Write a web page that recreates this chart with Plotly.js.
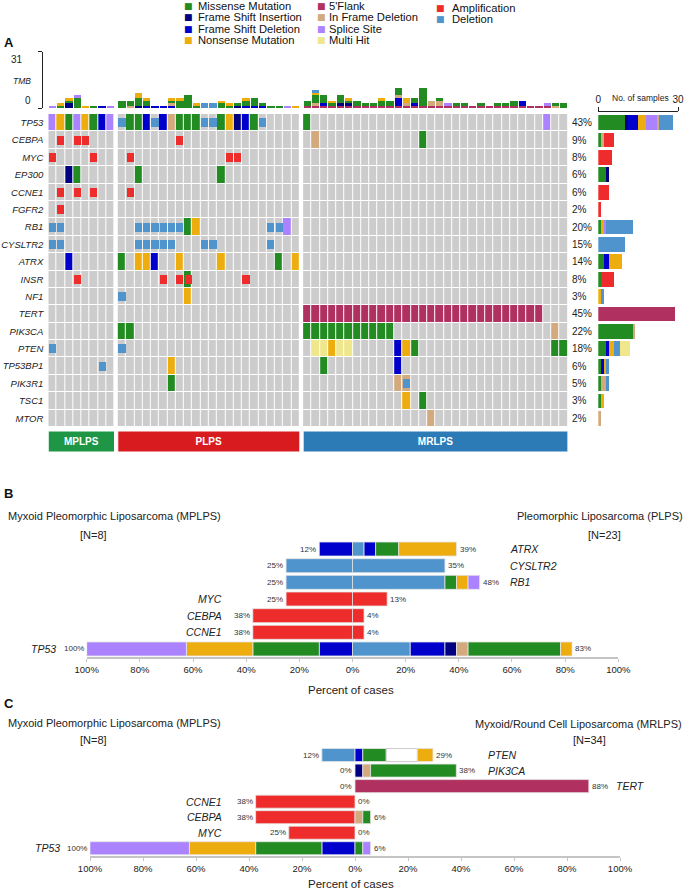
<!DOCTYPE html>
<html><head><meta charset="utf-8">
<script src="https://cdn.plot.ly/plotly-3.0.1.min.js"></script>
<style>html,body{margin:0;padding:0;background:#fff}#chart{width:685px;height:891px}</style>
</head><body><div id="chart"></div>
<script>
// ================= DATA =================
// Panel A oncoplot
const genes = ['TP53','CEBPA','MYC','EP300','CCNE1','FGFR2','RB1','CYSLTR2','ATRX','INSR','NF1','TERT','PIK3CA','PTEN','TP53BP1','PIK3R1','TSC1','MTOR'];
const groups = ['MPLPS','PLPS','MRLPS'];
const groupSizes = [8, 22, 32];
const pctAltered = [43,9,8,6,6,2,20,15,14,8,3,45,22,18,6,5,3,2];
// codes: M missense, I frame-shift ins, D frame-shift del, N nonsense, F 5'flank,
//        T in-frame del, S splice site, H multi hit, A amplification, L deletion (CNV)
// [gene, sample column(s) within group, code]
const mutMPLPS = [
  ['TP53','1','S'],['TP53','2','N'],['TP53','3','M'],['TP53','4','S'],['TP53','5','N'],['TP53','6','M'],['TP53','7','D'],['TP53','8','S'],
  ['EP300','3','I'],['EP300','4','M'],
  ['ATRX','3','D']
];
const cnvMPLPS = [
  ['CEBPA','2','A'],['CEBPA','4-5','A'],
  ['MYC','1','A'],['MYC','6','A'],
  ['CCNE1','2','A'],['CCNE1','4','A'],['CCNE1','6','A'],
  ['FGFR2','2','A'],
  ['RB1','1-2','L'],['CYSLTR2','1-2','L'],
  ['INSR','4','A'],
  ['PTEN','1','L'],['TP53BP1','7','L']
];
const mutPLPS = [
  ['TP53','2-3','M'],['TP53','4','D'],['TP53','6','D'],['TP53','7','T'],['TP53','8-10','M'],['TP53','13','M'],['TP53','14','N'],['TP53','15','I'],['TP53','16','D'],['TP53','17','M'],
  ['EP300','3','M'],['EP300','13','M'],
  ['RB1','9','M'],['RB1','10','N'],['RB1','21','S'],
  ['ATRX','1','M'],['ATRX','3-4','N'],['ATRX','5','D'],['ATRX','8','N'],['ATRX','13','N'],['ATRX','20','M'],['ATRX','22','N'],
  ['INSR','9','M'],['NF1','9','N'],
  ['PIK3CA','1-2','M'],
  ['TP53BP1','7','N'],['PIK3R1','7','M']
];
const cnvPLPS = [
  ['TP53','1','L'],['TP53','5','L'],['TP53','11-12','L'],['TP53','18','L'],
  ['CEBPA','8','A'],
  ['MYC','2','A'],['MYC','14-15','A'],
  ['CCNE1','2','A'],
  ['RB1','3-8','L'],['RB1','19-20','L'],
  ['CYSLTR2','3-7','L'],['CYSLTR2','11-12','L'],['CYSLTR2','19','L'],
  ['INSR','6','A'],['INSR','8-9','A'],['INSR','16','A'],
  ['NF1','1','L'],['PTEN','1','L']
];
const mutMRLPS = [
  ['TP53','1','M'],['TP53','30','S'],
  ['CEBPA','2','T'],['CEBPA','15','M'],
  ['TERT','1-29','F'],
  ['PIK3CA','1-11','M'],['PIK3CA','31','T'],
  ['PTEN','2-3','H'],['PTEN','4','N'],['PTEN','5-6','H'],['PTEN','12','D'],['PTEN','13','N'],['PTEN','14','M'],['PTEN','31-32','M'],
  ['TP53BP1','3','M'],['TP53BP1','12','D'],
  ['PIK3R1','12-13','T'],
  ['TSC1','13','N'],['TSC1','15','M'],
  ['MTOR','16','T']
];
const cnvMRLPS = [['PIK3R1','13','L']];
// TMB: variants per sample (one letter per variant, same codes)
const tmbMPLPS = ['S','MN','IIMN','MMMMS','N','M','D','S'];
const tmbPLPS = ['MMM','TMM','IMMMNN','DMMN','D','D','DTMN','MMMN','MMMMM','MN','LL','LL','MMN','MN','IM','DMMN','DMMM','DM','M','M','S','N'];
const tmbMRLPS = ['FMM','FTMMMNL','FDMMM','FMN','FIMMM','FIMN','FMM','FM','FM','FMMN','FMM','FDDDTMMM','FTNN','FDMM','FMMMMMMM','FTT','FTTM','FS','FM','FM','F','FM','F','FM','FM','FMM','FDD','F','F','FS','TM','MM'];
const tmbPerVariant = 1.41;

// Panel B: MPLPS (N=8) vs PLPS (N=23), counts per variant type
const genesB = ['ATRX','CYSLTR2','RB1','MYC','CEBPA','CCNE1','TP53'];
const nB = [8, 23];
const countsB_MPLPS = ['D1','L2','L2','A2','A3','A3','D1 M2 N2 S3'];
const countsB_PLPS = ['L1 D1 M2 N5','L8','L8 M1 N1 S1','A3','A1','A1','L5 D3 I1 T1 M8 N1'];
const pctB_MPLPS = [12,25,25,25,38,38,100];
const pctB_PLPS = [39,35,48,13,4,4,83];

// Panel C: MPLPS (N=8) vs MRLPS (N=34)
const genesC = ['PTEN','PIK3CA','TERT','CCNE1','CEBPA','MYC','TP53'];
const nC = [8, 34];
const countsC_MPLPS = ['L1','','','A3','A3','A2','D1 M2 N2 S3'];
const countsC_MRLPS = ['D1 M3 H4 N2','I1 T1 M11','F30','','T1 M1','','M1 S1'];
const pctC_MPLPS = [12,0,0,38,38,25,100];
const pctC_MRLPS = [29,38,88,0,6,0,6];

// ================= STYLE =================
const W = 685, H = 891;
const FONT = 'Liberation Sans, Arial, sans-serif';
const COLORS = {M:'#228b22', I:'#000080', D:'#0000cd', N:'#eead0e', F:'#b03060', T:'#d2aa7d', S:'#ab82ff', H:'#f0e68c', A:'#ee2c2c', L:'#4f94cd'};
const COLORS_BC = Object.assign({}, COLORS, {H:'#ffffff'});
const LABELS = {M:'Missense Mutation', I:'Frame Shift Insertion', D:'Frame Shift Deletion', N:'Nonsense Mutation', F:"5'Flank", T:'In Frame Deletion', S:'Splice Site', H:'Multi Hit', A:'Amplification', L:'Deletion'};
const GROUP_COLORS = ['#1e9646','#d81b1f','#2c7bb6'];
const GRAY = '#cccccc';
const MUT_ORDER = ['.','M','I','D','N','F','T','S','H'];
const fx = p => p / W;
const fy = p => 1 - p / H;

// ================= BUILD =================
const groupGap = 0.4;
const starts = [];
{ let acc = 0; groupSizes.forEach((n, g) => { starts.push(acc + g * groupGap); acc += n; }); }
const xMax = starts[2] + groupSizes[2];
const centers = groupSizes.map((n, g) => Array.from({length: n}, (_, j) => starts[g] + j + 0.5));

function buildMatrix(list, n) {
  const m = genes.map(() => Array(n).fill('.'));
  list.forEach(([g, cols, code]) => {
    const gi = genes.indexOf(g);
    const [a, b] = cols.split('-').map(Number);
    for (let c = a; c <= (b || a); c++) m[gi][c - 1] = code;
  });
  return m;
}
const mutM = [buildMatrix(mutMPLPS, 8), buildMatrix(mutPLPS, 22), buildMatrix(mutMRLPS, 32)];
const cnvM = [buildMatrix(cnvMPLPS, 8), buildMatrix(cnvPLPS, 22), buildMatrix(cnvMRLPS, 32)];
const tmbAll = [tmbMPLPS, tmbPLPS, tmbMRLPS];

const traces = [];
const nCodes = MUT_ORDER.length;
const cscale = [];
MUT_ORDER.forEach((c, k) => {
  const col = c === '.' ? GRAY : COLORS[c];
  cscale.push([k / nCodes, col]); cscale.push([(k + 1) / nCodes, col]);
});
// heatmaps (one per group)
groupSizes.forEach((n, g) => {
  traces.push({
    type: 'heatmap', x: centers[g], y: genes.map((_, i) => i),
    z: mutM[g].map(row => row.map(c => MUT_ORDER.indexOf(c))),
    colorscale: cscale, zmin: -0.5, zmax: nCodes - 0.5, showscale: false,
    xgap: 1, ygap: 1, hoverinfo: 'skip', xaxis: 'x', yaxis: 'y'
  });
});
// CNV boxes (half height)
['A','L'].forEach(t => {
  const xs = [], bases = [];
  groupSizes.forEach((n, g) => {
    cnvM[g].forEach((row, gi) => row.forEach((c, j) => { if (c === t) { xs.push(centers[g][j]); bases.push(gi - 0.26); } }));
  });
  traces.push({type: 'bar', x: xs, y: xs.map(() => 0.52), base: bases, width: 0.86,
    marker: {color: COLORS[t], line: {width: 0}}, xaxis: 'x', yaxis: 'y', hoverinfo: 'skip', showlegend: false});
});
// TMB stacked bars
const tmbOrder = ['F','I','D','T','M','N','S','H','A','L'];
const allCenters = centers.flat();
const allTmb = tmbAll.flat();
tmbOrder.forEach(t => {
  const y = allTmb.map(s => { const c = s.split('').filter(ch => ch === t).length; return c ? c * tmbPerVariant : null; });
  if (y.every(v => v === null)) return;
  traces.push({type: 'bar', x: allCenters, y, width: 0.88, marker: {color: COLORS[t], line: {width: 0}},
    xaxis: 'x2', yaxis: 'y2', hoverinfo: 'skip', showlegend: false});
});
// Right side bars: number of samples per gene by variant type
const rightOrder = ['M','I','D','N','S','T','F','A','L','H'];
rightOrder.forEach(t => {
  const x = genes.map((_, gi) => {
    let c = 0;
    for (let g = 0; g < 3; g++) { mutM[g][gi].forEach(v => { if (v === t) c++; }); cnvM[g][gi].forEach(v => { if (v === t) c++; }); }
    return c || null;
  });
  if (x.every(v => v === null)) return;
  traces.push({type: 'bar', orientation: 'h', x, y: genes.map((_, i) => i), width: 0.85,
    marker: {color: COLORS[t], line: {width: 0}}, xaxis: 'x3', yaxis: 'y3', hoverinfo: 'skip', showlegend: false});
});
// group annotation bars
traces.push({type: 'bar', orientation: 'h', base: starts, x: groupSizes, y: [0,0,0], width: 1,
  marker: {color: GROUP_COLORS, line: {color: '#ffffff', width: 1}}, text: groups.map(g => '<b>' + g + '</b>'),
  textposition: 'inside', insidetextanchor: 'middle', textfont: {color: '#ffffff', size: 10, family: FONT},
  xaxis: 'x4', yaxis: 'y4', hoverinfo: 'skip', showlegend: false});

// diverging panels
const parseCounts = s => { const o = {}; s.split(/\s+/).filter(Boolean).forEach(tok => { o[tok[0]] = Number(tok.slice(1)); }); return o; };
const divOrder = ['A','L','D','I','T','M','H','N','S','F'];
function diverging(gs, cl, cr, ns, xa, ya) {
  const L = cl.map(parseCounts), R = cr.map(parseCounts);
  const ext = [[], []];
  [[L, ns[0], -1, 0], [R, ns[1], 1, 1]].forEach(([arr, n, sign, k]) => {
    arr.forEach((o, i) => { ext[k][i] = Object.values(o).reduce((a, b) => a + b, 0) / n * 100; });
    divOrder.forEach(t => {
      const x = arr.map(o => o[t] ? sign * o[t] / n * 100 : null);
      if (x.every(v => v === null)) return;
      traces.push({type: 'bar', orientation: 'h', x, y: gs, width: 0.84,
        marker: {color: COLORS_BC[t], line: {color: t === 'H' ? '#bdbdbd' : '#e4e4e4', width: 0.8}},
        xaxis: xa, yaxis: ya, hoverinfo: 'skip', showlegend: false});
    });
  });
  return ext;
}
const extB = diverging(genesB, countsB_MPLPS, countsB_PLPS, nB, 'x5', 'y5');
const extC = diverging(genesC, countsC_MPLPS, countsC_MRLPS, nC, 'x6', 'y6');

// ================= LAYOUT =================
const gridDomX = [fx(48.3), fx(567.9)];
const gridDomY = [fy(427), fy(114)];
const bDomX = [fx(86.7), fx(618.3)], bDomY = [fy(657.3), fy(540.7)];
const cDomX = [fx(90), fx(620)], cDomY = [fy(856), fy(747.3)];
const tickPct = [-100,-80,-60,-40,-20,0,20,40,60,80,100];
const pctAxis = (dom, anchor) => ({domain: dom, range: [-100, 100], anchor, showline: true, linecolor: '#c4c4c4', linewidth: 1.5,
  ticks: 'outside', ticklen: 3, tickcolor: '#c4c4c4', tickvals: tickPct, ticktext: tickPct.map(v => Math.abs(v) + '%'),
  tickfont: {size: 9.5, color: '#222'}, showgrid: false, zeroline: false, fixedrange: true});

const ann = [];
const A = (o) => ann.push(Object.assign({showarrow: false, borderpad: 0, font: {family: FONT, size: 11, color: '#222'}}, o));
// legend
const legendCols = [['M','I','D','N'], ['F','T','S','H'], ['A','L']];
const legSw = [188, 321, 440.5], legTx = [197, 328, 451];
const legY = [[5.6, 17.2, 28.8, 40.4], [5.6, 17.2, 28.8, 40.4], [7.5, 19.1]];
legendCols.forEach((col, ci) => col.forEach((t, ri) => {
  A({xref: 'paper', yref: 'paper', x: fx(legSw[ci]), y: fy(legY[ci][ri]), xanchor: 'center', yanchor: 'middle', text: '■', font: {family: 'DejaVu Sans', size: 9, color: COLORS[t]}});
  A({xref: 'paper', yref: 'paper', x: fx(legTx[ci]), y: fy(legY[ci][ri]), xanchor: 'left', yanchor: 'middle', text: LABELS[t], font: {family: FONT, size: 11.2, color: '#111'}});
}));
// panel letters
[['A', 42], ['B', 493], ['C', 703]].forEach(([t, y]) => A({xref: 'paper', yref: 'paper', x: fx(3), y: fy(y), xanchor: 'left', yanchor: 'middle', text: '<b>' + t + '</b>', font: {family: FONT, size: 13, color: '#111'}}));
// TMB axis labels
A({xref: 'paper', yref: 'y2', x: fx(24), y: 31, xanchor: 'right', yanchor: 'top', yshift: -1, text: '31', font: {family: FONT, size: 10, color: '#222'}});
A({xref: 'paper', yref: 'y2', x: fx(32), y: 0, xanchor: 'right', yanchor: 'bottom', yshift: 1, text: '0', font: {family: FONT, size: 10, color: '#222'}});
A({xref: 'paper', yref: 'paper', x: fx(22), y: fy(81), xanchor: 'center', yanchor: 'middle', text: '<i>TMB</i>', font: {family: FONT, size: 8.5, color: '#222'}});
// right bar axis title
A({xref: 'paper', yref: 'paper', x: fx(640), y: fy(98), xanchor: 'center', yanchor: 'middle', text: 'No. of samples', font: {family: FONT, size: 8.5, color: '#222'}});
// altered percentages
pctAltered.forEach((p, i) => A({xref: 'paper', yref: 'y', x: fx(570.5), y: i, xanchor: 'left', yanchor: 'middle', text: p + '%', font: {family: FONT, size: 10, color: '#222'}}));

// diverging annotations
function divAnn(gs, pl, pr, ext, xa, ya, dom, rightBase, leftBase) {
  const toPaper = v => dom[0] + (v + 100) / 200 * (dom[1] - dom[0]);
  gs.forEach((g, i) => {
    A({xref: 'paper', yref: ya, x: toPaper(-ext[0][i]), y: g, xanchor: 'right', yanchor: 'middle', xshift: -2, text: pl[i] + '%', font: {family: FONT, size: 8, color: '#333'}});
    A({xref: 'paper', yref: ya, x: toPaper(ext[1][i]), y: g, xanchor: 'left', yanchor: 'middle', xshift: 2, text: pr[i] + '%', font: {family: FONT, size: 8, color: '#333'}});
    const right = pr[i] > pl[i];
    const v = right ? Math.max(rightBase, ext[1][i] + 10) : -Math.max(leftBase, ext[0][i] + 11);
    A({xref: 'paper', yref: ya, x: toPaper(v), y: g, xanchor: right ? 'left' : 'right', yanchor: 'middle', text: '<i>' + g + '</i>', font: {family: FONT, size: 10.5, color: '#222'}});
  });
}
divAnn(genesB, pctB_MPLPS, pctB_PLPS, extB, 'x5', 'y5', bDomX, 58.8, 48.8);
divAnn(genesC, pctC_MPLPS, pctC_MRLPS, extC, 'x6', 'y6', cDomX, 49.7, 49.9);
// panel titles
const titleFont = {family: FONT, size: 11, color: '#222'};
A({xref: 'paper', yref: 'paper', x: fx(6.5), y: fy(516), xanchor: 'left', yanchor: 'middle', text: 'Myxoid Pleomorphic Liposarcoma (MPLPS)', font: titleFont});
A({xref: 'paper', yref: 'paper', x: fx(93.5), y: fy(535), xanchor: 'center', yanchor: 'middle', text: '[N=' + nB[0] + ']', font: titleFont});
A({xref: 'paper', yref: 'paper', x: fx(684), y: fy(516), xanchor: 'right', yanchor: 'middle', text: 'Pleomorphic Liposarcoma (PLPS)', font: titleFont});
A({xref: 'paper', yref: 'paper', x: fx(604.5), y: fy(535), xanchor: 'center', yanchor: 'middle', text: '[N=' + nB[1] + ']', font: titleFont});
A({xref: 'paper', yref: 'paper', x: fx(6.5), y: fy(723), xanchor: 'left', yanchor: 'middle', text: 'Myxoid Pleomorphic Liposarcoma (MPLPS)', font: titleFont});
A({xref: 'paper', yref: 'paper', x: fx(93.5), y: fy(740), xanchor: 'center', yanchor: 'middle', text: '[N=' + nC[0] + ']', font: titleFont});
A({xref: 'paper', yref: 'paper', x: fx(683), y: fy(724), xanchor: 'right', yanchor: 'middle', text: 'Myxoid/Round Cell Liposarcoma (MRLPS)', font: titleFont});
A({xref: 'paper', yref: 'paper', x: fx(589), y: fy(740), xanchor: 'center', yanchor: 'middle', text: '[N=' + nC[1] + ']', font: titleFont});
A({xref: 'paper', yref: 'paper', x: fx(351), y: fy(690), xanchor: 'center', yanchor: 'middle', text: 'Percent of cases', font: {family: FONT, size: 11.5, color: '#222'}});
A({xref: 'paper', yref: 'paper', x: fx(351), y: fy(884), xanchor: 'center', yanchor: 'middle', text: 'Percent of cases', font: {family: FONT, size: 11.5, color: '#222'}});

const hidden = {visible: false, showgrid: false, zeroline: false, fixedrange: true};
const layout = {
  width: W, height: H, margin: {l: 0, r: 0, t: 0, b: 0}, paper_bgcolor: '#fff', plot_bgcolor: 'rgba(0,0,0,0)',
  font: {family: FONT, color: '#222'}, showlegend: false, barmode: 'relative', bargap: 0, hovermode: false,
  xaxis: Object.assign({}, hidden, {domain: gridDomX, range: [0, xMax], anchor: 'y'}),
  yaxis: {domain: gridDomY, range: [genes.length - 0.5, -0.5], anchor: 'x', tickvals: genes.map((_, i) => i), ticktext: genes,
    ticks: '', showline: false, showgrid: false, zeroline: false, ticklabelstandoff: 4,
    tickfont: {family: FONT, size: 9.5, style: 'italic', color: '#222'}, fixedrange: true},
  xaxis2: Object.assign({}, hidden, {domain: gridDomX, range: [0, xMax], anchor: 'y2'}),
  yaxis2: {domain: [fy(108.3), fy(51.7)], range: [0, 31], anchor: 'free', position: fx(41.7), showline: true, linecolor: '#222', linewidth: 1,
    ticks: 'outside', ticklen: 4, tickcolor: '#222', tickvals: [0, 31], showticklabels: false, showgrid: false, zeroline: false, fixedrange: true},
  xaxis3: {domain: [fx(598.3), fx(678)], range: [0, 30], side: 'top', anchor: 'free', position: fy(111), showline: true, linecolor: '#222', linewidth: 1,
    ticks: 'outside', ticklen: 4, tickcolor: '#222', tickvals: [0, 30], tickfont: {size: 10, color: '#222'}, showgrid: false, zeroline: false, fixedrange: true},
  yaxis3: Object.assign({}, hidden, {domain: gridDomY, range: [genes.length - 0.5, -0.5], anchor: 'x3'}),
  xaxis4: Object.assign({}, hidden, {domain: gridDomX, range: [0, xMax], anchor: 'y4'}),
  yaxis4: Object.assign({}, hidden, {domain: [fy(452), fy(431)], range: [-0.5, 0.5], anchor: 'x4'}),
  xaxis5: pctAxis(bDomX, 'y5'),
  yaxis5: Object.assign({}, hidden, {domain: bDomY, type: 'category', categoryarray: genesB, categoryorder: 'array', range: [genesB.length - 0.5, -0.5], anchor: 'x5'}),
  xaxis6: pctAxis(cDomX, 'y6'),
  yaxis6: Object.assign({}, hidden, {domain: cDomY, type: 'category', categoryarray: genesC, categoryorder: 'array', range: [genesC.length - 0.5, -0.5], anchor: 'x6'}),
  annotations: ann
};
Plotly.newPlot('chart', traces, layout, {staticPlot: true, displayModeBar: false});
</script></body></html>
